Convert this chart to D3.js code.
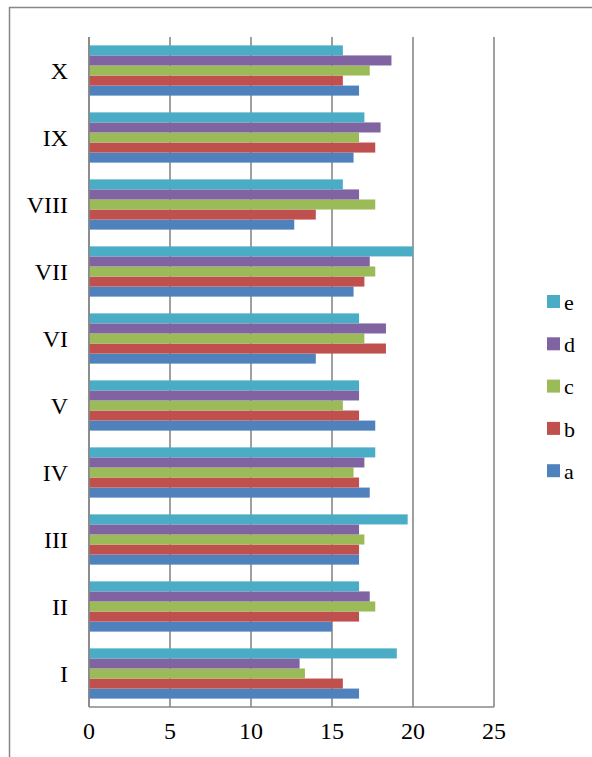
<!DOCTYPE html>
<html>
<head>
<meta charset="utf-8">
<script src="https://cdn.jsdelivr.net/npm/d3@7"></script>
<style>
  body { margin: 0; background: #fff; }
  svg { display: block; }
  text { font-family: "Liberation Serif", "Times New Roman", serif; fill: #000; }
</style>
</head>
<body>
<div id="chart"></div>
<script>
const categories = ["I", "II", "III", "IV", "V", "VI", "VII", "VIII", "IX", "X"];
const seriesNames = ["a", "b", "c", "d", "e"];
const a = [16.67, 15, 16.67, 17.33, 17.67, 14, 16.33, 12.67, 16.33, 16.67];
const b = [15.67, 16.67, 16.67, 16.67, 16.67, 18.33, 17, 14, 17.67, 15.67];
const c = [13.33, 17.67, 17, 16.33, 15.67, 17, 17.67, 17.67, 16.67, 17.33];
const d = [13, 17.33, 16.67, 17, 16.67, 18.33, 17.33, 16.67, 18, 18.67];
const e = [19, 16.67, 19.67, 17.67, 16.67, 16.67, 20, 15.67, 17, 15.67];
const xTicks = [0, 5, 10, 15, 20, 25];
const colors = ["#4F81BD", "#C0504D", "#9BBB59", "#8064A2", "#4BACC6"];

const values = [a, b, c, d, e];
const W = 592, H = 757;
const plot = { left: 89, right: 494, top: 37, bottom: 707 };

const svg = d3.select("#chart").append("svg")
    .attr("width", W)
    .attr("height", H);

// outer chart border
svg.append("rect")
    .attr("x", 9.5).attr("y", 7.5)
    .attr("width", W + 10).attr("height", H + 10)
    .attr("fill", "none")
    .attr("stroke", "#878787")
    .attr("stroke-width", 1.5);

const x = d3.scaleLinear().domain([0, 25]).range([plot.left, plot.right]);

// categories from bottom (I) to top (X)
const y = d3.scaleBand()
    .domain(categories)
    .range([plot.bottom, plot.top])
    .paddingInner(0.25)
    .paddingOuter(0.125);

// series within a group: e at top, a at bottom
const ySub = d3.scaleBand()
    .domain(seriesNames.slice().reverse())
    .range([0, y.bandwidth()]);

// vertical gridlines
svg.append("g")
    .selectAll("line")
    .data(xTicks)
    .join("line")
    .attr("x1", t => x(t)).attr("x2", t => x(t))
    .attr("y1", plot.top).attr("y2", plot.bottom)
    .attr("stroke", "#888")
    .attr("stroke-width", 1.6);

// bottom axis line
svg.append("line")
    .attr("x1", plot.left).attr("x2", plot.right)
    .attr("y1", plot.bottom).attr("y2", plot.bottom)
    .attr("stroke", "#888")
    .attr("stroke-width", 1.6);

// bars
seriesNames.forEach((s, i) => {
    svg.append("g")
        .selectAll("rect")
        .data(categories)
        .join("rect")
        .attr("x", x(0))
        .attr("y", (cat) => y(cat) + ySub(s))
        .attr("width", (cat, j) => x(values[i][j]) - x(0))
        .attr("height", ySub.bandwidth())
        .attr("fill", colors[i]);
});

// y axis line on top of bars
svg.append("line")
    .attr("x1", plot.left).attr("x2", plot.left)
    .attr("y1", plot.top).attr("y2", plot.bottom)
    .attr("stroke", "#888")
    .attr("stroke-width", 1.6);

// category labels
svg.append("g")
    .selectAll("text")
    .data(categories)
    .join("text")
    .attr("x", 68)
    .attr("y", cat => y(cat) + y.bandwidth() / 2)
    .attr("dy", "0.35em")
    .attr("text-anchor", "end")
    .style("font-size", "24px")
    .text(cat => cat);

// x tick labels
svg.append("g")
    .selectAll("text")
    .data(xTicks)
    .join("text")
    .attr("x", t => x(t))
    .attr("y", 739)
    .attr("text-anchor", "middle")
    .style("font-size", "24px")
    .text(t => t);

// legend (e on top)
const legend = svg.append("g")
    .selectAll("g")
    .data(seriesNames.slice().reverse())
    .join("g")
    .attr("transform", (s, k) => `translate(547,${295 + k * 42.3})`);

legend.append("rect")
    .attr("width", 13).attr("height", 13)
    .attr("fill", s => colors[seriesNames.indexOf(s)]);

legend.append("text")
    .attr("x", 17)
    .attr("y", 7)
    .attr("dy", "0.35em")
    .style("font-size", "22px")
    .text(s => s);
</script>
</body>
</html>
